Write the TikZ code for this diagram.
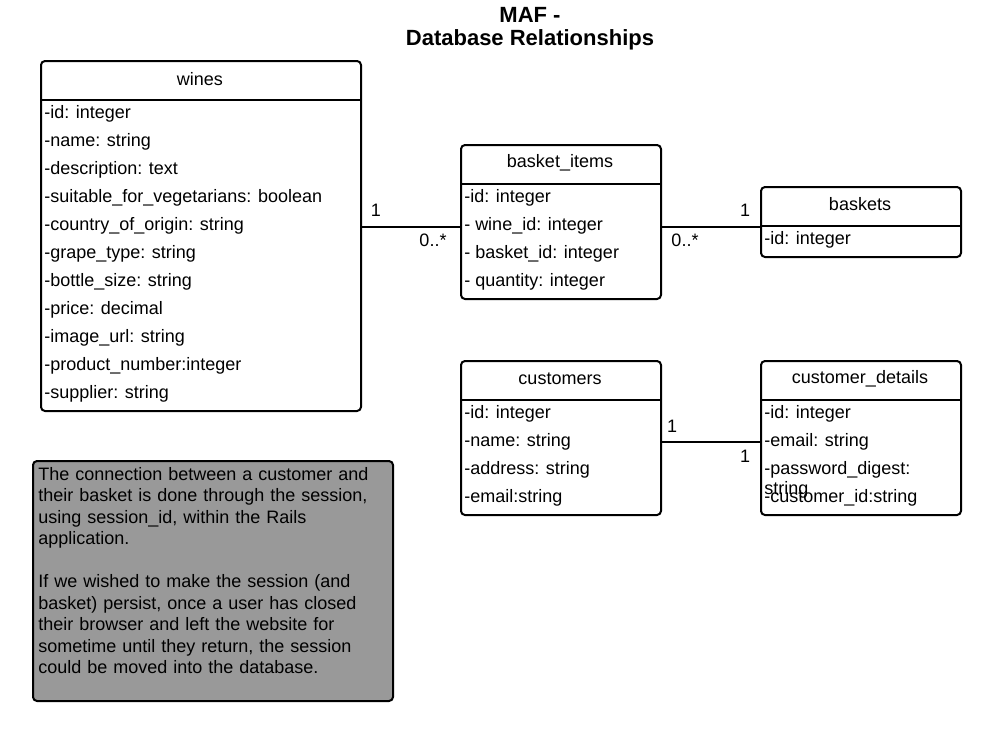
\documentclass[tikz,border=0pt]{standalone}
\usepackage{fontspec}
\setmainfont{Liberation Sans}
\definecolor{notegray}{HTML}{999999}
\begin{document}
\begin{tikzpicture}[x=0.75pt,y=-0.75pt,
  umlbox/.style={draw=black, line width=1.5pt, rounded corners=3pt, fill=white, inner sep=0pt, anchor=north west},
  hline/.style={line width=1.5pt},
  conn/.style={line width=1.1pt},
  row/.style={anchor=west, inner sep=0pt, yshift=-2pt, font=\fontsize{13.5}{16}\selectfont},
  ttl/.style={anchor=center, inner sep=0pt, yshift=-1pt, font=\fontsize{13.5}{16}\selectfont},
  mult/.style={anchor=center, inner sep=0pt, font=\fontsize{13.5}{16}\selectfont}]
\useasboundingbox (0,0) rectangle (1000,740);
\fill[white] (0,0) rectangle (1000,740);

% title
\node[inner sep=0pt, font=\fontsize{16.5}{19}\selectfont\bfseries] (t1) at (530,15) {MAF -};
\node[inner sep=0pt, font=\fontsize{16.5}{19}\selectfont\bfseries] (t2) at (530,40) {Database Relationships};

% wines
\node[umlbox, minimum width=240pt, minimum height=262.5pt] (wines) at (40,60) {};
\draw[hline] (wines.west |- 0,100) -- (wines.east |- 0,100);
\node[ttl] (winesT) at (200,78) {wines};
\node[row] (w1) at (44,111) {-id: integer};
\node[row] (w2) at (44,139) {-name: string};
\node[row] (w3) at (44,167) {-description: text};
\node[row] (w4) at (44,195) {-suitable\_for\_vegetarians: boolean};
\node[row] (w5) at (44,223) {-country\_of\_origin: string};
\node[row] (w6) at (44,251) {-grape\_type: string};
\node[row] (w7) at (44,279) {-bottle\_size: string};
\node[row] (w8) at (44,307) {-price: decimal};
\node[row] (w9) at (44,335) {-image\_url: string};
\node[row] (w10) at (44,363) {-product\_number:integer};
\node[row] (w11) at (44,391) {-supplier: string};

% basket_items
\node[umlbox, minimum width=150pt, minimum height=115.5pt] (bi) at (460,144) {};
\draw[hline] (bi.west |- 0,184) -- (bi.east |- 0,184);
\node[ttl] (biT) at (560,161) {basket\_items};
\node[row] (b1) at (464,195) {-id: integer};
\node[row] (b2) at (464,223) {- wine\_id: integer};
\node[row] (b3) at (464,251) {- basket\_id: integer};
\node[row] (b4) at (464,279) {- quantity: integer};

% baskets
\node[umlbox, minimum width=150pt, minimum height=52.5pt] (bk) at (760,186) {};
\draw[hline] (bk.west |- 0,226) -- (bk.east |- 0,226);
\node[ttl] (bkT) at (860,203) {baskets};
\node[row] (k1) at (764,237) {-id: integer};

% customers
\node[umlbox, minimum width=150pt, minimum height=115.5pt] (cu) at (460,360) {};
\draw[hline] (cu.west |- 0,400) -- (cu.east |- 0,400);
\node[ttl] (cuT) at (560,377) {customers};
\node[row] (c1) at (464,411) {-id: integer};
\node[row] (c2) at (464,439) {-name: string};
\node[row] (c3) at (464,467) {-address: string};
\node[row] (c4) at (464,495) {-email:string};

% customer_details
\node[umlbox, minimum width=150pt, minimum height=115.5pt] (cd) at (760,360) {};
\draw[hline] (cd.west |- 0,400) -- (cd.east |- 0,400);
\node[ttl] (cdT) at (860,377) {customer\_details};
\node[row] (d1) at (764,411) {-id: integer};
\node[row] (d2) at (764,439) {-email: string};
\node[row] (d3) at (764,467) {-password\_digest:};
\node[row] (d3b) at (764,487) {string};
\node[row] (d4) at (764,495) {-customer\_id:string};

% connectors
\draw[conn] (wines.east |- 0,227) -- (bi.west |- 0,227);
\draw[conn] (bi.east |- 0,227) -- (bk.west |- 0,227);
\draw[conn] (cu.east |- 0,442) -- (cd.west |- 0,442);
\node[mult] (m1) at (376,210) {1};
\node[mult] (m2) at (433,240) {0..*};
\node[mult] (m3) at (685,240) {0..*};
\node[mult] (m4) at (745,210) {1};
\node[mult] (m5) at (672,426) {1};
\node[mult] (m6) at (745,456) {1};

% note
\node[umlbox, fill=notegray, minimum width=270pt, minimum height=180pt] (note) at (32,460) {};
\node[anchor=north west, inner sep=0pt, text width=268pt, align=left,
  font=\fontsize{13.5}{16.1}\selectfont] (noteT) at (38,467)
  {The connection between a customer and\\
   their basket is done through the session,\\
   using session\_id, within the Rails\\
   application.\\[16.1pt]
   If we wished to make the session (and\\
   basket) persist, once a user has closed\\
   their browser and left the website for\\
   sometime until they return, the session\\
   could be moved into the database.};
\end{tikzpicture}
\end{document}
